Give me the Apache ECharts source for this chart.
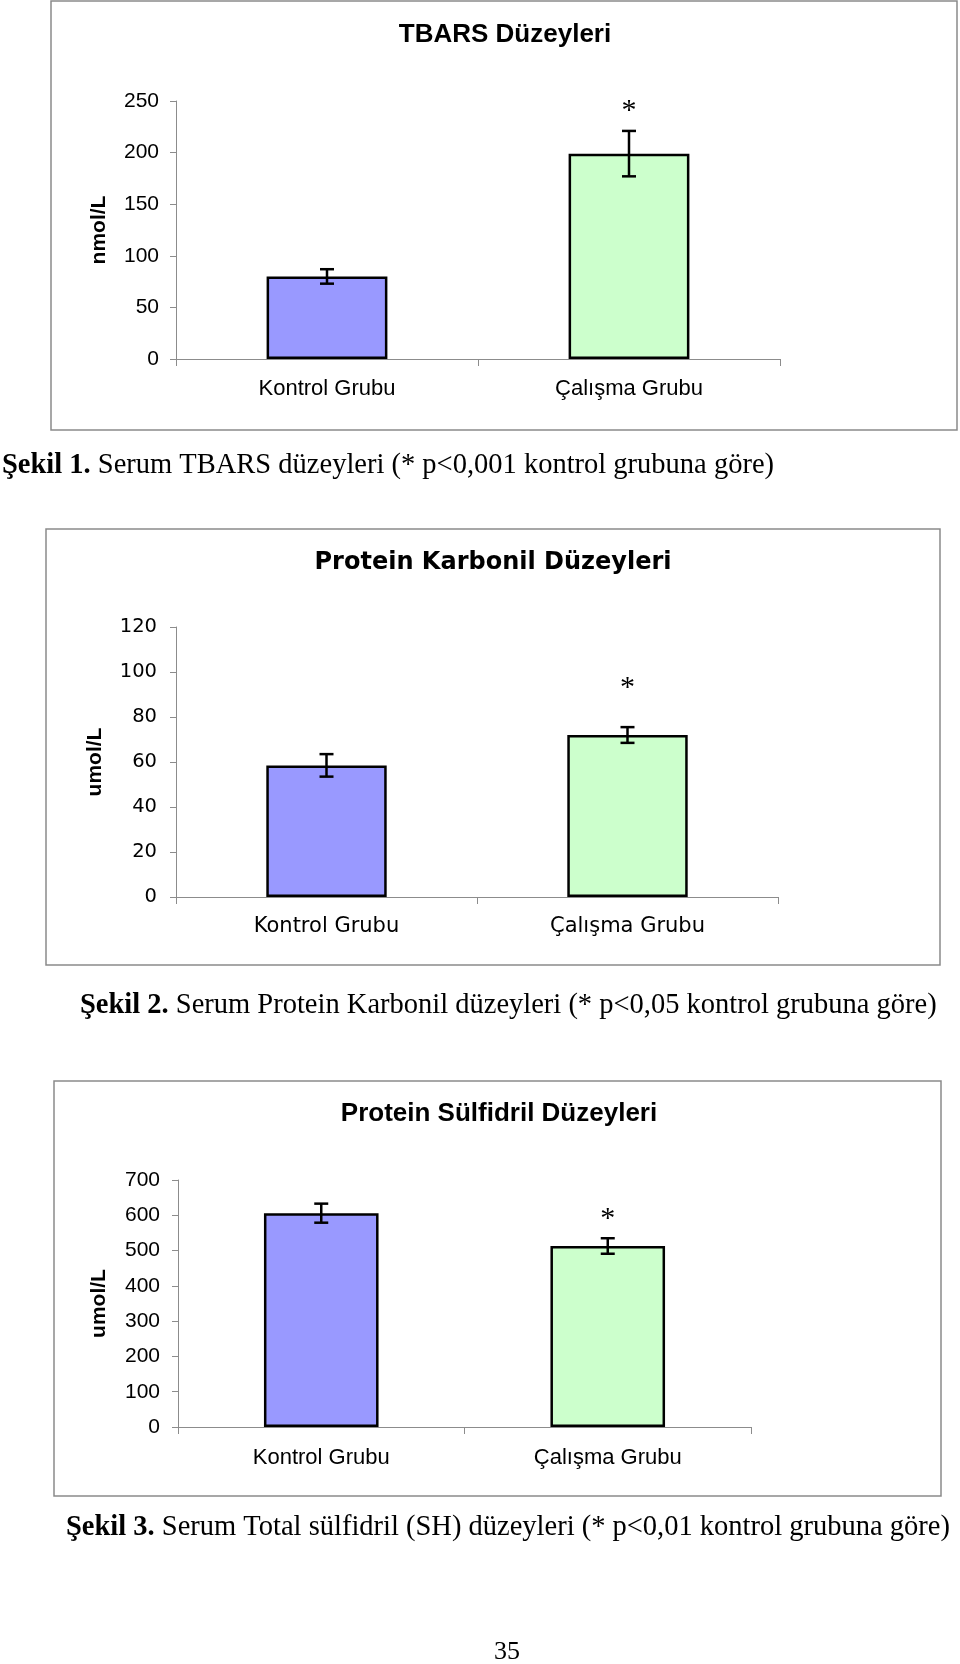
<!DOCTYPE html>
<html>
<head>
<meta charset="utf-8">
<script src="https://cdn.jsdelivr.net/npm/echarts@6/dist/echarts.min.js"></script>
<style>
  html, body { margin: 0; padding: 0; background: #ffffff; }
  #chart { width: 960px; height: 1664px; }
</style>
</head>
<body>
<div id="chart"></div>
<script>
// ---- Data ----
const categories = ['Kontrol Grubu', 'Çalışma Grubu'];

const tbarsMeans = [80, 199];
const tbarsErrors = [7, 22];
const tbarsStar = [null, 240];
const tbarsAxis = [0, 250, 50];   // min, max, interval

const karbonilMeans = [58.5, 72];
const karbonilErrors = [5, 3.5];
const karbonilStar = [null, 93];
const karbonilAxis = [0, 120, 20];

const sulfidrilMeans = [606, 513];
const sulfidrilErrors = [27, 22];
const sulfidrilStar = [null, 588];
const sulfidrilAxis = [0, 700, 100];

const chartTitles = ['TBARS Düzeyleri', 'Protein Karbonil Düzeyleri', 'Protein Sülfidril Düzeyleri'];
const yUnits = ['nmol/L', 'umol/L', 'umol/L'];
const captions = [
  ['Şekil 1.', ' Serum TBARS düzeyleri (* p<0,001 kontrol grubuna göre)'],
  ['Şekil 2.', ' Serum Protein Karbonil düzeyleri (* p<0,05 kontrol grubuna göre)'],
  ['Şekil 3.', ' Serum Total sülfidril (SH) düzeyleri (* p<0,01 kontrol grubuna göre)']
];
const pageNumber = '35';

// ---- Styles ----
const barColors = ['#9999ff', '#ccffcc'];
const SANS = '"Liberation Sans", Arial, sans-serif';
const WIDE = '"DejaVu Sans", sans-serif';
const SERIF = '"Liberation Serif", "Times New Roman", serif';
const AXIS_GREY = '#8c8c8c';

const panels = [
  { means: tbarsMeans, errs: tbarsErrors, star: tbarsStar, axis: tbarsAxis,
    grid: { left: 176, top: 101, width: 604, height: 258 },
    font: SANS, tickSize: 21, catSize: 22, yLabelMargin: 17, xLabelMargin: 19, nameGap: 66 },
  { means: karbonilMeans, errs: karbonilErrors, star: karbonilStar, axis: karbonilAxis,
    grid: { left: 176, top: 627, width: 602, height: 270 },
    font: WIDE, tickSize: 19.5, catSize: 21, yLabelMargin: 19, xLabelMargin: 19, nameGap: 70 },
  { means: sulfidrilMeans, errs: sulfidrilErrors, star: sulfidrilStar, axis: sulfidrilAxis,
    grid: { left: 178, top: 1180, width: 573, height: 247 },
    font: SANS, tickSize: 21, catSize: 22, yLabelMargin: 18, xLabelMargin: 20, nameGap: 68 }
];

const grids = [], xAxes = [], yAxes = [], series = [];
panels.forEach((p, k) => {
  grids.push(p.grid);
  xAxes.push({
    type: 'category', gridIndex: k, data: categories,
    axisLine: { show: true, lineStyle: { color: AXIS_GREY, width: 1 } },
    axisTick: { show: true, length: 7, lineStyle: { color: AXIS_GREY } },
    axisLabel: { margin: p.xLabelMargin, fontSize: p.catSize, fontFamily: p.font, color: '#000' },
    splitLine: { show: false }
  });
  yAxes.push({
    type: 'value', gridIndex: k, min: p.axis[0], max: p.axis[1], interval: p.axis[2],
    axisLine: { show: true, lineStyle: { color: AXIS_GREY, width: 1 } },
    axisTick: { show: true, length: 6, lineStyle: { color: AXIS_GREY } },
    axisLabel: { margin: p.yLabelMargin, fontSize: p.tickSize, fontFamily: p.font, color: '#000' },
    splitLine: { show: false },
    name: yUnits[k], nameLocation: 'middle', nameRotate: 90, nameGap: p.nameGap,
    nameTextStyle: { fontFamily: SANS, fontWeight: 'bold', fontSize: 21, color: '#000' }
  });
  series.push({
    type: 'bar', xAxisIndex: k, yAxisIndex: k, barWidth: '40%',
    data: p.means.map((v, i) => ({ value: v, itemStyle: { color: barColors[i] } })),
    itemStyle: { borderColor: '#000', borderWidth: 2.5 },
    emphasis: { disabled: true }, z: 2, animation: false
  });
  series.push({
    type: 'custom', xAxisIndex: k, yAxisIndex: k, z: 5, animation: false,
    data: p.means.map((v, i) => [i, v - p.errs[i], v + p.errs[i]]),
    renderItem: function (params, api) {
      const lo = api.coord([api.value(0), api.value(1)]);
      const hi = api.coord([api.value(0), api.value(2)]);
      const h = 7;
      const st = { stroke: '#000', lineWidth: 2.5 };
      return { type: 'group', children: [
        { type: 'line', shape: { x1: hi[0], y1: hi[1], x2: lo[0], y2: lo[1] }, style: st },
        { type: 'line', shape: { x1: hi[0] - h, y1: hi[1], x2: hi[0] + h, y2: hi[1] }, style: st },
        { type: 'line', shape: { x1: lo[0] - h, y1: lo[1], x2: lo[0] + h, y2: lo[1] }, style: st }
      ]};
    }
  });
  series.push({
    type: 'custom', xAxisIndex: k, yAxisIndex: k, z: 6, animation: false,
    data: p.star.map((v, i) => [i, v]).filter(d => d[1] !== null),
    renderItem: function (params, api) {
      const c = api.coord([api.value(0), api.value(1)]);
      return { type: 'text', x: c[0], y: c[1],
        style: { text: '*', font: '30px ' + SERIF, fill: '#000', textAlign: 'center', textVerticalAlign: 'middle' } };
    }
  });
});

const graphics = [
  { type: 'rect', shape: { x: 51, y: 1, width: 906, height: 429 }, style: { fill: 'none', stroke: '#8a8a8a', lineWidth: 1.5 } },
  { type: 'rect', shape: { x: 46, y: 529, width: 894, height: 436 }, style: { fill: 'none', stroke: '#8a8a8a', lineWidth: 1.5 } },
  { type: 'rect', shape: { x: 54, y: 1081, width: 887, height: 415 }, style: { fill: 'none', stroke: '#8a8a8a', lineWidth: 1.5 } },
  { type: 'text', x: 505, y: 35, style: { text: chartTitles[0], font: 'bold 26px ' + SANS, fill: '#000', textAlign: 'center', textVerticalAlign: 'middle' } },
  { type: 'text', x: 493, y: 563, style: { text: chartTitles[1], font: 'bold 24px ' + WIDE, fill: '#000', textAlign: 'center', textVerticalAlign: 'middle' } },
  { type: 'text', x: 499, y: 1114, style: { text: chartTitles[2], font: 'bold 26px ' + SANS, fill: '#000', textAlign: 'center', textVerticalAlign: 'middle' } }
];
const capPos = [[2, 466], [80, 1006], [66, 1528]];
captions.forEach((c, k) => {
  graphics.push({
    type: 'text', x: capPos[k][0], y: capPos[k][1],
    style: {
      text: '{b|' + c[0] + '}{r|' + c[1] + '}',
      textAlign: 'left', textVerticalAlign: 'middle', fill: '#000',
      rich: {
        b: { fontFamily: SERIF, fontSize: 28.5, fontWeight: 'bold', fill: '#000' },
        r: { fontFamily: SERIF, fontSize: 28.5, fill: '#000' }
      }
    }
  });
});
graphics.push({ type: 'text', x: 507, y: 1652, style: { text: pageNumber, font: '26px ' + SERIF, fill: '#000', textAlign: 'center', textVerticalAlign: 'middle' } });

const chart = echarts.init(document.getElementById('chart'), null, { renderer: 'canvas' });
chart.setOption({
  backgroundColor: '#ffffff',
  animation: false,
  grid: grids,
  xAxis: xAxes,
  yAxis: yAxes,
  series: series,
  graphic: { elements: graphics }
});
</script>
</body>
</html>
